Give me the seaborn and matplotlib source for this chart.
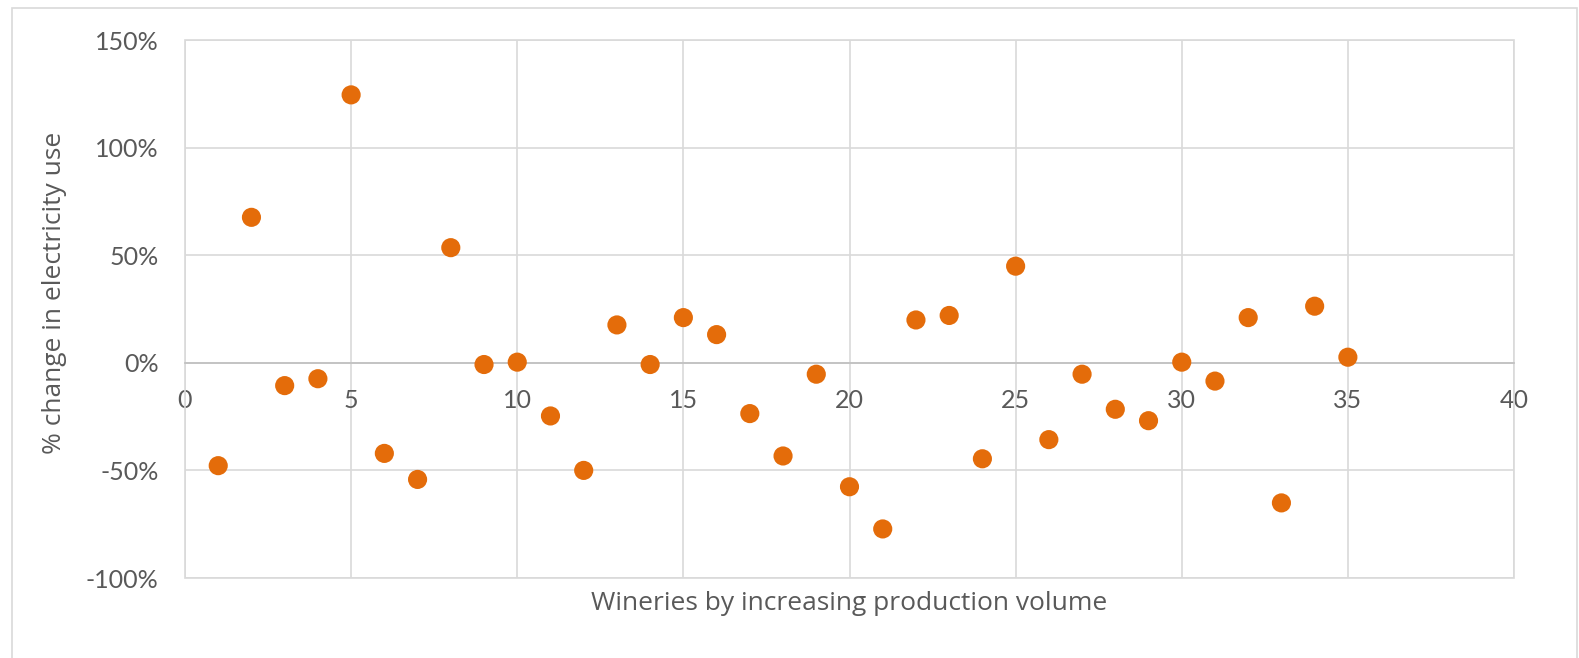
import matplotlib
matplotlib.use("Agg")
import matplotlib.pyplot as plt
from matplotlib.patches import Rectangle
from matplotlib.ticker import FuncFormatter, MultipleLocator
import seaborn as sns
import pandas as pd

# Wineries ranked by production volume and their % change in electricity use
winery_rank = list(range(1, 36))
pct_change = [
    -47.8, 67.6, -10.6, -7.4, 124.5, -42.1, -54.2, 53.5, -0.8, 0.3,
    -24.7, -50.0, 17.6, -0.8, 21.0, 13.1, -23.6, -43.3, -5.3, -57.6,
    -77.2, 19.9, 22.0, -44.6, 44.9, -35.7, -5.3, -21.6, -26.9, 0.3,
    -8.5, 21.0, -65.1, 26.3, 2.6,
]
x_label = "Wineries by increasing production volume"
y_label = "% change in electricity use"

df = pd.DataFrame({"rank": winery_rank, "change": pct_change})

sns.set_theme(style="white")
plt.rcParams["font.family"] = ["Lato", "DejaVu Sans"]

TEXT = "#595959"
GRID = "#D9D9D9"
DOT = "#E46C0A"

fig = plt.figure(figsize=(15.79, 6.58), dpi=100)
fig.patch.set_facecolor("white")

# chart-area border
fig.patches.append(Rectangle((12 / 1579, -0.02), 1565 / 1579, 1.02 - 8 / 658,
                             transform=fig.transFigure, fill=False,
                             edgecolor=GRID, linewidth=1.2))

ax = fig.add_axes([185 / 1579, 1 - 578 / 658, 1329 / 1579, 538 / 658])

sns.scatterplot(data=df, x="rank", y="change", ax=ax, s=190, color=DOT,
                edgecolor="none", linewidth=0, zorder=3)

ax.set_xlim(0, 40)
ax.set_ylim(-100, 150)
ax.xaxis.set_major_locator(MultipleLocator(5))
ax.yaxis.set_major_locator(MultipleLocator(50))
ax.yaxis.set_major_formatter(FuncFormatter(lambda v, p: f"{v:.0f}%"))

ax.grid(True, color=GRID, linewidth=1.2, zorder=0)
for side in ["top", "left", "right"]:
    ax.spines[side].set_visible(False)
ax.spines["bottom"].set_position(("data", 0))
ax.spines["bottom"].set_color("#BFBFBF")
ax.spines["bottom"].set_linewidth(1.2)
ax.spines["bottom"].set_zorder(1)

# plot-area frame
ax.add_patch(Rectangle((0, 0), 1, 1, transform=ax.transAxes, fill=False,
                       edgecolor=GRID, linewidth=1.2, clip_on=False, zorder=1))

ax.tick_params(axis="both", length=0, labelsize=18, labelcolor=TEXT)
ax.tick_params(axis="x", pad=19)
ax.tick_params(axis="y", pad=19)

title_font = dict(family=["Open Sans", "DejaVu Sans"], size=19, color=TEXT)
ax.set_xlabel(x_label, **title_font)
ax.set_ylabel(y_label, **title_font)
ax.xaxis.set_label_coords(0.5, (578 - 603) / 538)
ax.yaxis.set_label_coords((55 - 185) / 1329, (578 - 293) / 538)
ax.xaxis.label.set_va("center")
ax.yaxis.label.set_va("center")

fig.savefig("out.png", dpi=100, facecolor="white")
